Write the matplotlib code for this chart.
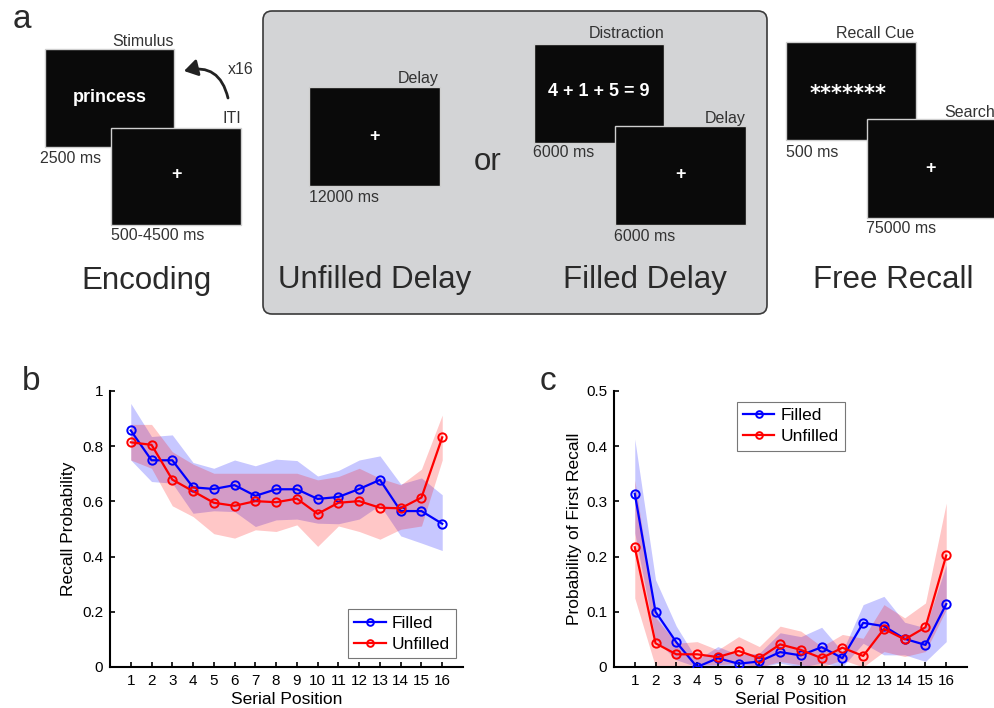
import matplotlib
matplotlib.use("Agg")
import matplotlib.pyplot as plt
from matplotlib.patches import Rectangle, FancyBboxPatch, FancyArrowPatch
import numpy as np

plt.rcParams['font.family'] = ['Liberation Sans', 'DejaVu Sans']

# ---------------- data ----------------
serial_pos = list(range(1, 17))

# panel b: recall probability
rec_filled = [0.857, 0.749, 0.749, 0.651, 0.645, 0.659, 0.620, 0.644,
              0.644, 0.609, 0.616, 0.645, 0.678, 0.565, 0.565, 0.519]
rec_filled_hi = [0.955, 0.835, 0.841, 0.741, 0.720, 0.750, 0.729, 0.753,
                 0.748, 0.692, 0.712, 0.750, 0.765, 0.663, 0.685, 0.624]
rec_filled_lo = [0.750, 0.672, 0.666, 0.557, 0.566, 0.563, 0.509, 0.533,
                 0.536, 0.521, 0.519, 0.536, 0.587, 0.475, 0.449, 0.422]
rec_unfilled = [0.814, 0.805, 0.679, 0.637, 0.595, 0.584, 0.601, 0.597,
                0.610, 0.555, 0.595, 0.601, 0.577, 0.575, 0.614, 0.832]
rec_unfilled_hi = [0.879, 0.879, 0.780, 0.735, 0.702, 0.702, 0.702, 0.702,
                   0.702, 0.678, 0.690, 0.720, 0.684, 0.660, 0.717, 0.913]
rec_unfilled_lo = [0.750, 0.720, 0.584, 0.545, 0.483, 0.467, 0.497, 0.491,
                   0.515, 0.437, 0.511, 0.491, 0.463, 0.499, 0.511, 0.750]

# panel c: probability of first recall
pfr_filled = [0.314, 0.100, 0.045, 0.000, 0.016, 0.006, 0.010, 0.027,
              0.021, 0.036, 0.016, 0.080, 0.074, 0.051, 0.040, 0.114]
pfr_filled_hi = [0.413, 0.158, 0.074, 0.013, 0.037, 0.022, 0.025, 0.062,
                 0.055, 0.072, 0.028, 0.113, 0.128, 0.081, 0.071, 0.185]
pfr_filled_lo = [0.243, 0.049, 0.013, 0.000, 0.000, 0.000, 0.000, 0.007,
                 0.000, 0.007, 0.000, 0.043, 0.022, 0.022, 0.010, 0.046]
pfr_unfilled = [0.217, 0.043, 0.023, 0.023, 0.018, 0.029, 0.016, 0.041,
                0.031, 0.016, 0.035, 0.020, 0.069, 0.050, 0.072, 0.202]
pfr_unfilled_hi = [0.339, 0.090, 0.043, 0.046, 0.031, 0.055, 0.037, 0.074,
                   0.065, 0.037, 0.059, 0.052, 0.113, 0.089, 0.116, 0.297]
pfr_unfilled_lo = [0.125, 0.000, 0.001, 0.004, 0.004, 0.007, 0.000, 0.010,
                   0.004, 0.000, 0.013, 0.000, 0.028, 0.019, 0.028, 0.104]

b_yticks = [0, 0.2, 0.4, 0.6, 0.8, 1]
b_yticklabels = ['0', '0.2', '0.4', '0.6', '0.8', '1']
c_yticks = [0, 0.1, 0.2, 0.3, 0.4, 0.5]
c_yticklabels = ['0', '0.1', '0.2', '0.3', '0.4', '0.5']

# ---------------- figure ----------------
W, H = 995, 708
fig = plt.figure(figsize=(W / 100, H / 100), dpi=100)

# ---- panel a (drawn in pixel coordinates) ----
axa = fig.add_axes([0, 0, 1, 1])
axa.set_xlim(0, W)
axa.set_ylim(H, 0)
axa.axis('off')

TXT = '#333333'
BIG = '#2a2a2a'
BOXC = '#0a0a0a'
EDGE = '#cfcfcf'


def screen(x0, y0, x1, y1, z):
    axa.add_patch(Rectangle((x0, y0), x1 - x0, y1 - y0, facecolor=BOXC,
                            edgecolor=EDGE, lw=1.0, zorder=z))


def small(x, y, s, ha='left'):
    axa.text(x, y, s, ha=ha, va='baseline', fontsize=11.5, color=TXT, zorder=10)


def big(x, y, s):
    axa.text(x, y, s, ha='center', va='baseline', fontsize=22.5, color=BIG, zorder=10)


def white(x, y, s, fs=13, family=None):
    kw = {}
    if family:
        kw['family'] = family
    axa.text(x, y, s, ha='center', va='center', fontsize=fs, color='white',
             fontweight='bold', zorder=20, **kw)


axa.text(13, 28, 'a', fontsize=24, color=BIG, va='baseline', ha='left')

# Encoding
screen(45, 49, 174, 147, 2)
screen(111, 128, 241, 225, 3)
small(174, 46, 'Stimulus', ha='right')
small(241, 123, 'ITI', ha='right')
small(228, 74, 'x16')
white(110, 98, 'princess')
white(177, 175, '+')
small(40, 163, '2500 ms')
small(111, 240, '500-4500 ms')
big(147, 289, 'Encoding')
arr = FancyArrowPatch((228, 98), (184, 71), connectionstyle='arc3,rad=0.5',
                      arrowstyle='-|>,head_length=8,head_width=5', lw=2.0,
                      color='#222222', zorder=10, shrinkA=0, shrinkB=0)
axa.add_patch(arr)

# Delay panel
axa.add_patch(FancyBboxPatch((263, 11), 504, 303,
                             boxstyle='round,pad=0,rounding_size=9',
                             facecolor='#d3d4d6', edgecolor='#3a3a3a', lw=1.2, zorder=1))
screen(309, 87, 440, 186, 2)
small(439, 83, 'Delay', ha='right')
white(374, 136, '+')
small(309, 202, '12000 ms')
axa.text(488, 170, 'or', ha='center', va='baseline', fontsize=22.5, color=BIG, zorder=10)
screen(534, 44, 664, 143, 2)
screen(615, 126, 746, 225, 3)
small(664, 38, 'Distraction', ha='right')
white(599, 91, '4 + 1 + 5 = 9')
small(533, 157, '6000 ms')
small(746, 123, 'Delay', ha='right')
white(680, 175, '+')
small(614, 241, '6000 ms')
big(375, 288, 'Unfilled Delay')
big(645, 288, 'Filled Delay')

# Free recall
screen(786, 42, 916, 140, 2)
screen(867, 119, 1000, 218, 3)
small(914, 38, 'Recall Cue', ha='right')
white(848, 94, '*******', fs=15, family='DejaVu Sans')
small(995, 117, 'Search', ha='right')
small(786, 157, '500 ms')
white(930, 168, '+')
small(866, 233, '75000 ms')
big(893, 288, 'Free Recall')


# ---- panels b and c ----
def style_axes(ax):
    for s in ['top', 'right']:
        ax.spines[s].set_visible(False)
    for s in ['left', 'bottom']:
        ax.spines[s].set_linewidth(1.5)
    ax.tick_params(direction='in', length=3.5, width=1.2, labelsize=11,
                   pad=5, colors='black')
    ax.set_xlim(0, 17)
    ax.set_xticks(serial_pos)
    ax.set_xlabel('Serial Position', fontsize=12.5, labelpad=3)


def draw(ax, f, fhi, flo, u, uhi, ulo):
    ax.fill_between(serial_pos, flo, fhi, color='blue', alpha=0.22, lw=0)
    ax.fill_between(serial_pos, ulo, uhi, color='red', alpha=0.22, lw=0)
    ax.plot(serial_pos, f, '-o', color='blue', lw=1.6, ms=6, mfc='none',
            mew=1.4, label='Filled', zorder=5)
    ax.plot(serial_pos, u, '-o', color='red', lw=1.6, ms=6, mfc='none',
            mew=1.4, label='Unfilled', zorder=5)


leg_kw = dict(fontsize=12.5, frameon=True, fancybox=False, numpoints=1,
              handlelength=1.8, borderpad=0.35, labelspacing=0.35,
              handletextpad=0.35, edgecolor='#555555', markerscale=0.8)

axb = fig.add_axes([110 / W, 1 - 667 / H, 353 / W, 276 / H])
draw(axb, rec_filled, rec_filled_hi, rec_filled_lo,
     rec_unfilled, rec_unfilled_hi, rec_unfilled_lo)
style_axes(axb)
axb.set_ylim(0, 1)
axb.set_yticks(b_yticks)
axb.set_yticklabels(b_yticklabels)
axb.set_ylabel('Recall Probability', fontsize=12.5, labelpad=4)
legb = axb.legend(loc='lower right', bbox_to_anchor=(346 / 353, 9 / 276), borderaxespad=0, **leg_kw)
legb.get_frame().set_linewidth(0.8)
fig.text(22 / W, 1 - 390 / H, 'b', fontsize=24, color=BIG, va='baseline')

axc = fig.add_axes([614 / W, 1 - 667 / H, 353 / W, 276 / H])
draw(axc, pfr_filled, pfr_filled_hi, pfr_filled_lo,
     pfr_unfilled, pfr_unfilled_hi, pfr_unfilled_lo)
style_axes(axc)
axc.set_ylim(0, 0.5)
axc.set_yticks(c_yticks)
axc.set_yticklabels(c_yticklabels)
axc.set_ylabel('Probability of First Recall', fontsize=12.5, labelpad=3)
legc = axc.legend(loc='upper left', bbox_to_anchor=(123 / 353, 265 / 276), borderaxespad=0, **leg_kw)
legc.get_frame().set_linewidth(0.8)
fig.text(540 / W, 1 - 390 / H, 'c', fontsize=24, color=BIG, va='baseline')

fig.savefig('out.png', dpi=100)
